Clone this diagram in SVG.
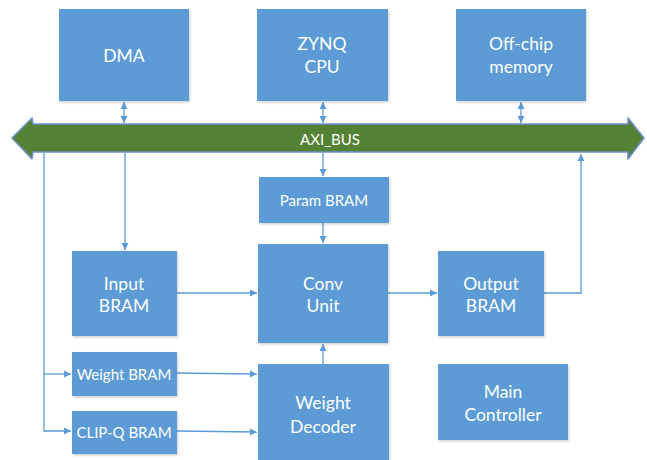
<svg xmlns="http://www.w3.org/2000/svg" width="647" height="460" viewBox="0 0 647 460">
<style>
.box{fill:#5B9BD5;filter:url(#sh)}
.t{font-family:Lato,"Open Sans","Liberation Sans",sans-serif;fill:#FFFFFF;text-anchor:middle;dominant-baseline:central}
.l{font-size:17.5px}
.s{font-size:15px}
.c{fill:none;stroke:#5B9BD5;stroke-width:1.3}
</style>
<defs>
<filter id="sh" x="-10%" y="-10%" width="125%" height="125%">
<feDropShadow dx="1" dy="1.5" stdDeviation="1.2" flood-color="#000" flood-opacity="0.18"/>
</filter>
<marker id="ah" markerWidth="8" markerHeight="8" refX="7" refY="4" orient="auto-start-reverse" markerUnits="userSpaceOnUse">
<path d="M0,0.5 L7,4 L0,7.5 Z" fill="#5B9BD5"/>
</marker>
</defs>
<rect width="647" height="460" fill="#FFFFFF"/>
<g id="connectors">
<path class="c" d="M124,102 V123" marker-start="url(#ah)" marker-end="url(#ah)"/>
<path class="c" d="M323,102 V123" marker-start="url(#ah)" marker-end="url(#ah)"/>
<path class="c" d="M521,102 V123" marker-start="url(#ah)" marker-end="url(#ah)"/>
<path class="c" d="M125,153 V250" marker-end="url(#ah)"/>
<path class="c" d="M323,153 V176" marker-end="url(#ah)"/>
<path class="c" d="M323,223 V243" marker-end="url(#ah)"/>
<path class="c" d="M44,153 V431 H71" marker-end="url(#ah)"/>
<path class="c" d="M44,374 H71" marker-end="url(#ah)"/>
<path class="c" d="M177,293 H257" marker-end="url(#ah)"/>
<path class="c" d="M388,293 H437" marker-end="url(#ah)"/>
<path class="c" d="M544,293 H581 V154" marker-end="url(#ah)"/>
<path class="c" d="M177,373 L257,374" marker-end="url(#ah)"/>
<path class="c" d="M177,431 L257,432" marker-end="url(#ah)"/>
<path class="c" d="M323,364 V344" marker-end="url(#ah)"/>
</g>
<g id="axi_bus">
<path d="M12,138 L32,118 L33,124 L628,124 L628,118 L644,138 L628,159 L628,152 L33,152 L32,159 Z" fill="#548235" stroke="#6F8FCF" stroke-width="1.6" stroke-linejoin="round"/>
<text class="t" x="330" y="139" font-size="15">AXI_BUS</text>
</g>
<g id="dma"><rect class="box" x="59" y="9" width="130" height="92"/><text class="t l" x="124" y="55">DMA</text></g>
<g id="zynq_cpu"><rect class="box" x="257" y="9" width="131" height="92"/><text class="t l" x="322" y="43">ZYNQ</text><text class="t l" x="322" y="66">CPU</text></g>
<g id="offchip_memory"><rect class="box" x="456" y="9" width="130" height="92"/><text class="t l" x="521" y="43">Off-chip</text><text class="t l" x="521" y="66">memory</text></g>
<g id="param_bram"><rect class="box" x="259" y="177" width="130" height="46"/><text class="t s" x="324" y="200">Param BRAM</text></g>
<g id="input_bram"><rect class="box" x="72" y="251" width="105" height="85"/><text class="t l" x="124" y="283">Input</text><text class="t l" x="124" y="305">BRAM</text></g>
<g id="conv_unit"><rect class="box" x="258" y="244" width="130" height="99"/><text class="t l" x="323" y="283">Conv</text><text class="t l" x="323" y="305">Unit</text></g>
<g id="output_bram"><rect class="box" x="438" y="251" width="106" height="85"/><text class="t l" x="491" y="283">Output</text><text class="t l" x="491" y="305">BRAM</text></g>
<g id="weight_bram"><rect class="box" x="72" y="352" width="105" height="44"/><text class="t s" x="124" y="374">Weight BRAM</text></g>
<g id="clipq_bram"><rect class="box" x="72" y="411" width="105" height="43"/><text class="t s" x="124" y="432">CLIP-Q BRAM</text></g>
<g id="weight_decoder"><rect class="box" x="258" y="364" width="131" height="100"/><text class="t l" x="323" y="402">Weight</text><text class="t l" x="323" y="426">Decoder</text></g>
<g id="main_controller"><rect class="box" x="438" y="364" width="130" height="76"/><text class="t l" x="503" y="391">Main</text><text class="t l" x="503" y="414">Controller</text></g>
</svg>
